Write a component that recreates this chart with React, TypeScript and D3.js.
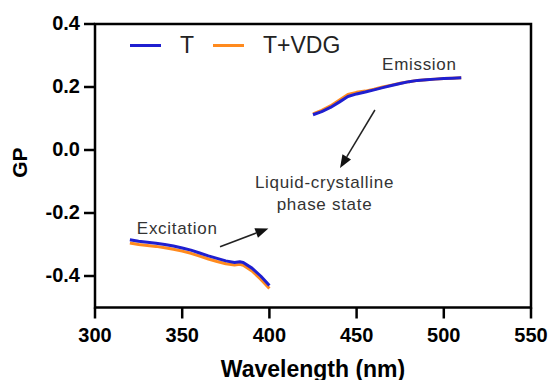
import * as d3 from "d3";

// excitation spectrum GP (320-400 nm)
const excWavelength = [320, 325, 330, 335, 340, 345, 350, 355, 360, 365, 370, 375, 380, 383, 385, 390, 395, 400];
const excT = [-0.285, -0.29, -0.293, -0.296, -0.3, -0.305, -0.311, -0.318, -0.327, -0.336, -0.344, -0.352, -0.357, -0.355, -0.357, -0.375, -0.4, -0.43];
const excTVDG = [-0.295, -0.3, -0.303, -0.306, -0.31, -0.315, -0.321, -0.328, -0.337, -0.346, -0.354, -0.361, -0.365, -0.363, -0.366, -0.384, -0.41, -0.44];

// emission spectrum GP (425-510 nm)
const emWavelength = [425, 430, 435, 440, 445, 450, 455, 460, 465, 470, 475, 480, 485, 490, 495, 500, 505, 510];
const emT = [0.112, 0.122, 0.135, 0.152, 0.17, 0.178, 0.184, 0.191, 0.198, 0.205, 0.211, 0.217, 0.221, 0.223, 0.225, 0.227, 0.228, 0.229];
const emTVDG = [0.115, 0.126, 0.14, 0.158, 0.176, 0.183, 0.187, 0.193, 0.2, 0.206, 0.212, 0.217, 0.221, 0.223, 0.225, 0.227, 0.228, 0.229];

const xTicks = [300, 350, 400, 450, 500, 550];
const yTicks = [-0.4, -0.2, 0.0, 0.2, 0.4];

const seriesNames = ["T", "T+VDG"];
const seriesColors = ["#1f1fd0", "#ff8a1e"];

const x = d3.scaleLinear().domain([300, 550]).range([95, 531]);
const y = d3.scaleLinear().domain([-0.5, 0.4]).range([307.5, 24]);

const font = "'Liberation Sans', Arial, sans-serif";

type Pt = [number, number];

const lineGen = d3
  .line<Pt>()
  .x((d) => x(d[0]))
  .y((d) => y(d[1]));

const zip = (xs: number[], ys: number[]): Pt[] => xs.map((v, i) => [v, ys[i]]);

// T+VDG under, T on top
const curves = [
  { pts: zip(excWavelength, excTVDG), color: seriesColors[1] },
  { pts: zip(emWavelength, emTVDG), color: seriesColors[1] },
  { pts: zip(excWavelength, excT), color: seriesColors[0] },
  { pts: zip(emWavelength, emT), color: seriesColors[0] },
];

const notes = [
  { text: "Emission", at: [486, 0.254], anchor: "middle" },
  { text: "Liquid-crystalline", at: [431.6, -0.121], anchor: "middle" },
  { text: "phase state", at: [431.6, -0.191], anchor: "middle" },
  { text: "Excitation", at: [324, -0.267], anchor: "start" },
];

const arrows: [Pt, Pt][] = [
  [[371.7, -0.307], [399.4, -0.249]],
  [[460.5, 0.127], [440.5, -0.057]],
];

function Arrow({ from, to }: { from: Pt; to: Pt }) {
  const x1 = x(from[0]);
  const y1 = y(from[1]);
  const x2 = x(to[0]);
  const y2 = y(to[1]);
  const ang = Math.atan2(y2 - y1, x2 - x1);
  const len = 13;
  const half = 5;
  const bx = x2 - len * Math.cos(ang);
  const by = y2 - len * Math.sin(ang);
  const px = -Math.sin(ang) * half;
  const py = Math.cos(ang) * half;
  return (
    <g>
      <line x1={x1} y1={y1} x2={bx} y2={by} stroke="#222" strokeWidth={1.5} />
      <path d={`M${x2},${y2}L${bx + px},${by + py}L${bx - px},${by - py}Z`} fill="#111" />
    </g>
  );
}

function App() {
  const left = x(300);
  const right = x(550);
  const top = y(0.4);
  const bottom = y(-0.5);
  const fmtY = d3.format(".1f");

  return (
    <svg width={551} height={380} style={{ position: "absolute", left: 0, top: 0 }}>
      {curves.map((c, i) => (
        <path
          key={i}
          d={lineGen(c.pts) ?? ""}
          fill="none"
          stroke={c.color}
          strokeWidth={3}
          strokeLinejoin="round"
        />
      ))}

      {/* plot frame */}
      <rect
        x={left}
        y={top}
        width={right - left}
        height={bottom - top}
        fill="none"
        stroke="#000"
        strokeWidth={2.5}
      />

      {/* x axis ticks */}
      {xTicks.map((t) => (
        <g key={t} transform={`translate(${x(t)},${bottom})`}>
          <line y2={11} stroke="#000" strokeWidth={2.5} />
          <text
            y={20}
            dy="0.71em"
            textAnchor="middle"
            fill="#000"
            fontFamily={font}
            fontSize={20}
            fontWeight="bold"
          >
            {t}
          </text>
        </g>
      ))}

      {/* y axis ticks */}
      {yTicks.map((t) => (
        <g key={t} transform={`translate(${left},${y(t)})`}>
          <line x2={-11} stroke="#000" strokeWidth={2.5} />
          <text
            x={-15}
            dy="0.32em"
            textAnchor="end"
            fill="#000"
            fontFamily={font}
            fontSize={20}
            fontWeight="bold"
          >
            {fmtY(t).replace("−", "-")}
          </text>
        </g>
      ))}

      <text
        x={(left + right) / 2}
        y={376.5}
        textAnchor="middle"
        fontFamily={font}
        fontSize={23}
        fontWeight="bold"
      >
        Wavelength (nm)
      </text>
      <text
        transform={`translate(27,${y(-0.04)}) rotate(-90)`}
        textAnchor="middle"
        fontFamily={font}
        fontSize={21}
        fontWeight="bold"
      >
        GP
      </text>

      {/* legend */}
      {seriesNames.map((name, i) => {
        const lx = 130 + i * 83;
        return (
          <g key={name}>
            <line x1={lx} x2={lx + 31} y1={45.5} y2={45.5} stroke={seriesColors[i]} strokeWidth={3} />
            <text x={lx + 50} y={53} fill="#222" fontFamily={font} fontSize={23}>
              {name}
            </text>
          </g>
        );
      })}

      {/* annotations */}
      {notes.map((n) => (
        <text
          key={n.text}
          x={x(n.at[0])}
          y={y(n.at[1])}
          textAnchor={n.anchor}
          fill="#333"
          fontFamily={font}
          fontSize={17}
          letterSpacing={0.7}
        >
          {n.text}
        </text>
      ))}
      {arrows.map((a, i) => (
        <Arrow key={i} from={a[0]} to={a[1]} />
      ))}
    </svg>
  );
}

export default App;
